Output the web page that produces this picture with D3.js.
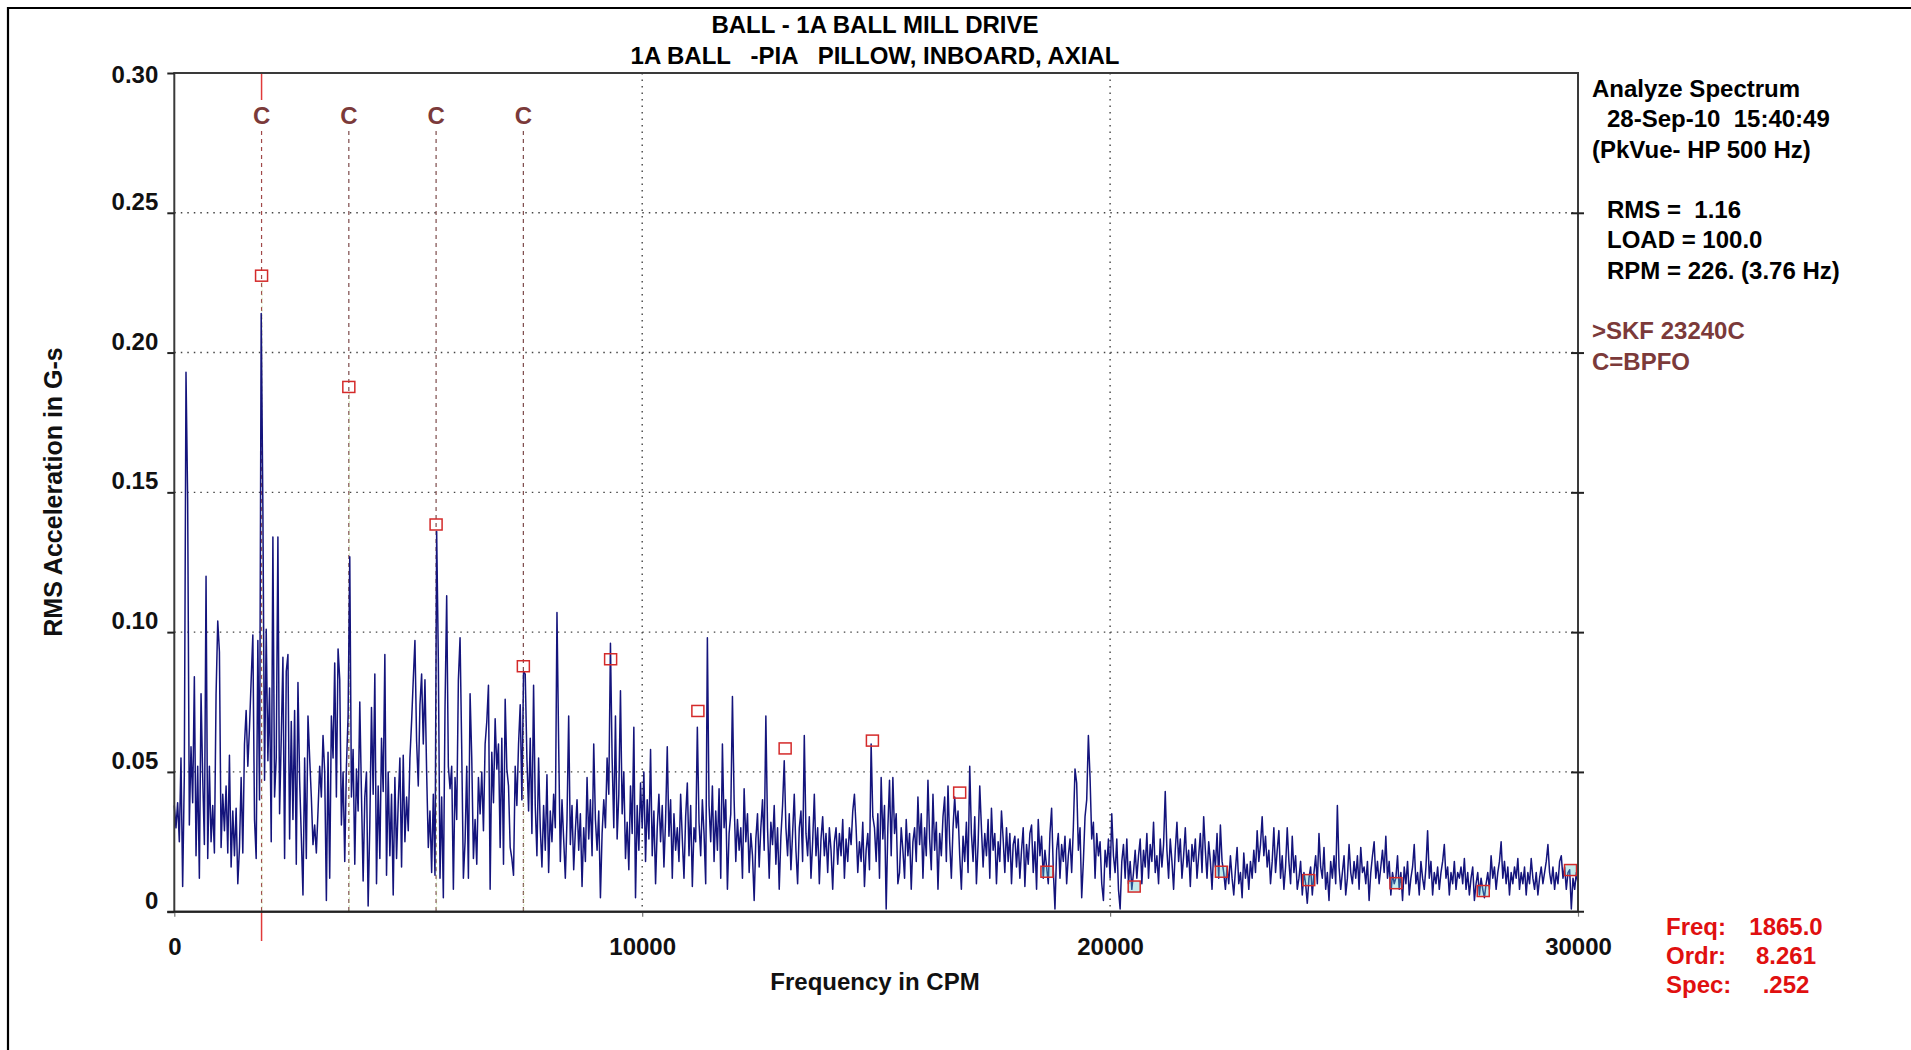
<!DOCTYPE html>
<html>
<head>
<meta charset="utf-8">
<script src="https://cdn.jsdelivr.net/npm/d3@7"></script>
<style>
  html, body { margin: 0; padding: 0; background: #fff; }
  svg { display: block; }
  text { font-family: "Liberation Sans", Arial, Helvetica, sans-serif; font-weight: bold; }
</style>
</head>
<body>
<svg id="chart" width="1911" height="1050"></svg>
<script>
// ---- Chart content ----
const titleLines = ["BALL - 1A BALL MILL DRIVE", "1A BALL   -PIA   PILLOW, INBOARD, AXIAL"];
const yAxisTitle = "RMS Acceleration in G-s";
const xAxisTitle = "Frequency in CPM";

const yTicks = [0, 0.05, 0.10, 0.15, 0.20, 0.25, 0.30];
const yTickLabels = ["0", "0.05", "0.10", "0.15", "0.20", "0.25", "0.30"];
const xTicks = [0, 10000, 20000, 30000];
const xTickLabels = ["0", "10000", "20000", "30000"];

const infoLines = [
  { text: "Analyze Spectrum", indent: false, color: "#000" },
  { text: "28-Sep-10  15:40:49", indent: true, color: "#000" },
  { text: "(PkVue- HP 500 Hz)", indent: false, color: "#000" },
  { text: "RMS =  1.16", indent: true, color: "#000", gapBefore: true },
  { text: "LOAD = 100.0", indent: true, color: "#000" },
  { text: "RPM = 226. (3.76 Hz)", indent: true, color: "#000" },
  { text: ">SKF 23240C", indent: false, color: "#7b3a3a", gapBefore: true },
  { text: "C=BPFO", indent: false, color: "#7b3a3a" }
];

const readoutLabels = ["Freq:", "Ordr:", "Spec:"];
const readoutValues = ["1865.0", "8.261", ".252"];

// BPFO fault-frequency cursor family (label "C"), CPM
const bpfoLines = [1865, 3730, 5595, 7460];

// Harmonic markers of the 1865 CPM cursor: frequency (CPM) and amplitude (G)
const harmonicFreqs = [1865, 3730, 5595, 7460, 9325, 11190, 13055, 14920,
                       16785, 18650, 20515, 22380, 24245, 26110, 27975, 29840];
const harmonicAmps = [0.2275, 0.1877, 0.1385, 0.0878, 0.0903, 0.0718, 0.0584, 0.0612,
                      0.0426, 0.0143, 0.0090, 0.0143, 0.0113, 0.0102, 0.0074, 0.0149];

// Spectrum: 840 lines over 0..30000 CPM, amplitudes in milli-G
const fmax = 30000;
const lineCount = 840;
const amplitudeMilliG = [
  38,30,39,25,55,9,49,193,147,31,
  59,39,84,20,52,12,78,48,24,120,
  19,52,25,38,21,78,104,93,23,42,
  29,45,21,56,16,36,20,37,10,23,
  48,21,60,72,52,66,83,99,33,19,
  97,40,214,145,47,101,54,80,25,134,
  41,55,134,35,62,91,19,86,92,26,
  68,33,72,17,82,47,27,6,55,19,
  70,55,41,24,31,21,36,52,41,63,
  50,4,57,12,70,55,89,41,94,83,
  31,50,18,52,70,127,41,58,17,51,
  36,75,42,11,41,50,2,31,73,42,
  85,10,45,19,62,43,92,13,50,20,
  42,6,48,19,39,55,16,56,25,41,
  29,55,68,83,97,61,45,74,85,60,
  83,50,23,36,14,42,13,136,90,12,
  41,5,73,113,52,44,52,8,48,33,
  83,98,58,12,25,52,12,78,55,19,
  33,17,48,35,50,29,60,68,81,8,
  57,39,69,51,60,23,62,17,76,51,
  45,23,19,13,52,38,60,74,40,86,
  85,55,36,62,28,81,38,20,55,30,
  16,38,22,49,14,36,25,42,30,107,
  60,18,40,26,12,33,70,24,38,15,
  29,40,22,35,9,30,18,48,26,40,
  20,60,33,22,36,5,28,40,30,55,
  42,96,55,30,70,26,42,79,35,50,
  19,32,15,45,28,66,5,38,22,46,
  30,50,18,40,26,58,20,36,10,30,
  42,25,38,16,33,59,27,40,12,35,
  22,30,18,42,26,12,34,46,20,38,
  9,30,25,66,32,20,40,28,10,98,
  38,25,45,18,36,22,44,12,60,30,
  40,8,28,35,77,40,18,33,22,30,
  12,44,25,35,14,28,20,4,26,35,
  16,30,40,22,70,30,12,32,24,38,
  17,30,8,27,38,54,30,20,35,15,
  28,42,22,10,30,36,18,63,28,20,
  34,12,25,42,20,30,10,26,34,20,
  28,14,30,22,8,25,30,17,28,20,
  33,12,26,18,30,24,36,42,30,14,
  25,18,32,9,22,28,15,60,34,30,
  18,35,12,48,26,38,1,30,47,20,
  48,28,35,10,14,30,22,12,33,20,
  28,8,25,30,18,41,24,35,12,30,
  20,47,26,15,42,22,32,8,28,20,
  34,41,18,45,25,12,30,41,30,36,
  20,8,27,18,32,14,52,28,18,34,
  10,24,45,30,16,28,20,33,12,37,
  22,28,10,25,18,36,26,14,30,18,
  28,10,24,27,16,26,12,22,30,9,
  24,17,28,31,14,25,8,33,20,27,
  12,22,16,10,28,37,15,1,22,28,
  12,24,18,27,10,20,26,14,30,51,
  46,22,30,5,18,34,40,63,48,26,
  32,12,28,20,25,10,4,22,16,26,
  12,35,20,14,26,8,1,18,24,12,
  26,10,18,8,14,22,12,20,26,10,
  22,16,28,12,24,18,32,14,20,10,
  26,16,24,43,22,12,26,18,8,22,
  32,18,26,12,20,30,16,22,9,24,
  18,26,12,20,28,14,34,22,12,25,
  18,8,22,16,28,12,31,18,14,8,
  16,10,20,12,6,15,23,10,14,5,
  21,12,17,8,18,12,22,14,29,18,
  24,34,20,27,16,22,10,18,30,14,
  22,29,12,20,8,16,30,18,10,27,
  14,20,8,12,18,6,14,10,3,12,
  16,6,14,20,10,28,16,12,23,8,
  14,4,18,12,20,10,38,16,8,14,
  20,6,12,24,14,10,18,12,20,8,
  23,14,16,10,18,4,14,20,25,12,
  18,10,16,22,14,27,12,18,6,14,
  10,12,20,8,14,4,16,10,18,6,
  12,16,24,10,14,6,18,12,8,16,
  29,12,18,6,14,10,16,8,14,18,
  24,12,16,6,14,10,18,8,14,12,
  16,10,19,8,14,6,12,16,4,10,
  14,6,12,8,5,10,14,8,20,12,
  16,8,14,18,25,12,18,10,16,6,
  14,10,16,12,19,8,14,10,16,6,
  14,10,19,12,8,14,6,12,16,10,
  14,18,24,14,10,16,8,14,10,18,
  20,12,16,8,14,15,1,12,8,14,
  10
];

// ---- Layout ----
const svg = d3.select("#chart");
const plot = { left: 174.3, right: 1578, top: 73, bottom: 911.7 };

const x = d3.scaleLinear().domain([0, fmax]).range([plot.left, plot.right]);
const y = d3.scaleLinear().domain([0, 0.30]).range([plot.bottom, plot.top]);

// Page border (left and top edges)
svg.append("path")
  .attr("d", `M8,1050 V8 H1911`)
  .attr("fill", "none").attr("stroke", "#000").attr("stroke-width", 2.2);

// Titles
titleLines.forEach((t, i) => {
  svg.append("text")
    .attr("x", 875).attr("y", 33 + i * 30.5)
    .attr("text-anchor", "middle")
    .attr("font-size", 24).attr("fill", "#000")
    .style("white-space", "pre")
    .text(t);
});

// Dotted grid
const grid = svg.append("g").attr("stroke", "#444").attr("stroke-width", 1.4)
  .attr("stroke-dasharray", "1.5,5").attr("fill", "none");
grid.selectAll("line.h").data(yTicks.filter(v => v > 0 && v < 0.30)).join("line")
  .attr("class", "h")
  .attr("x1", plot.left).attr("x2", plot.right)
  .attr("y1", d => y(d)).attr("y2", d => y(d));
grid.selectAll("line.v").data(xTicks.filter(v => v > 0 && v < fmax)).join("line")
  .attr("class", "v")
  .attr("x1", d => x(d)).attr("x2", d => x(d))
  .attr("y1", plot.top).attr("y2", plot.bottom);

// BPFO cursor lines (dashed) with "C" labels
const cursors = svg.append("g");
cursors.selectAll("line").data(bpfoLines).join("line")
  .attr("x1", d => x(d)).attr("x2", d => x(d))
  .attr("y1", 131).attr("y2", plot.bottom)
  .attr("stroke", (d, i) => i === 0 ? "#a04848" : "#7d4a4a")
  .attr("stroke-width", 1.2)
  .attr("stroke-dasharray", "4,4");
cursors.selectAll("text").data(bpfoLines).join("text")
  .attr("x", d => x(d)).attr("y", 124)
  .attr("text-anchor", "middle")
  .attr("font-size", 24).attr("fill", "#7b3a3a")
  .text("C");

// Active cursor (solid red ends above the label and below the axis)
const activeX = x(bpfoLines[0]);
svg.append("line").attr("x1", activeX).attr("x2", activeX)
  .attr("y1", plot.top).attr("y2", 100)
  .attr("stroke", "#e03a3a").attr("stroke-width", 1.5);
svg.append("line").attr("x1", activeX).attr("x2", activeX)
  .attr("y1", plot.bottom).attr("y2", 941)
  .attr("stroke", "#e03a3a").attr("stroke-width", 1.5);

// Faint leader lines beneath the first harmonic markers
svg.append("g").selectAll("line").data(harmonicFreqs.slice(0, 4)).join("line")
  .attr("x1", d => x(d) + 0.5).attr("x2", d => x(d) + 0.5)
  .attr("y1", (d, i) => y(harmonicAmps[i]) + 6).attr("y2", plot.bottom)
  .attr("stroke", "#b4d98c").attr("stroke-width", 1)
  .attr("stroke-dasharray", "2,2").attr("opacity", 0.6);

// Spectrum trace
const spectrumLine = d3.line()
  .x((d, i) => x(i * fmax / lineCount))
  .y(d => y(d / 1000));
svg.append("path")
  .datum(amplitudeMilliG)
  .attr("d", spectrumLine)
  .attr("fill", "none")
  .attr("stroke", "#14147c")
  .attr("stroke-width", 1.5)
  .attr("stroke-linejoin", "round");

// Harmonic markers
svg.append("g").selectAll("rect").data(harmonicFreqs).join("rect")
  .attr("x", d => x(d) - 6)
  .attr("y", (d, i) => y(harmonicAmps[i]) - 5.5)
  .attr("width", 12).attr("height", 11)
  .attr("fill", (d, i) => i >= 9 ? "rgba(90,200,200,0.35)" : "none")
  .attr("stroke", "#d42a2a").attr("stroke-width", 1.5);

// Plot frame
svg.append("rect")
  .attr("x", plot.left).attr("y", plot.top)
  .attr("width", plot.right - plot.left).attr("height", plot.bottom - plot.top)
  .attr("fill", "none").attr("stroke", "#3a3a3a").attr("stroke-width", 2);

// Y axis (left) with tick labels
const yAxis = svg.append("g")
  .attr("transform", `translate(${plot.left},0)`)
  .call(d3.axisLeft(y).tickValues(yTicks)
    .tickFormat((d, i) => yTickLabels[i]).tickSize(7).tickPadding(9));
yAxis.select(".domain").remove();
yAxis.selectAll("line").attr("stroke", "#222").attr("stroke-width", 2);
yAxis.selectAll("text")
  .attr("font-size", 24).attr("fill", "#111")
  .attr("dy", d => d >= 0.30 ? 9 : -3.5);

// Right-hand ticks
const yAxisR = svg.append("g")
  .attr("transform", `translate(${plot.right - 7},0)`)
  .call(d3.axisRight(y).tickValues(yTicks.slice(1, -1)).tickFormat("").tickSize(13));
yAxisR.select(".domain").remove();
yAxisR.selectAll("line").attr("stroke", "#222").attr("stroke-width", 2);

// X axis (bottom)
const xAxis = svg.append("g")
  .attr("transform", `translate(0,${plot.bottom})`)
  .call(d3.axisBottom(x).tickValues(xTicks)
    .tickFormat((d, i) => xTickLabels[i]).tickSize(5).tickPadding(21));
xAxis.select(".domain").remove();
xAxis.selectAll("line").attr("stroke", "#777").attr("stroke-width", 1.2);
xAxis.selectAll("text").attr("font-size", 24).attr("fill", "#111");
svg.append("line")
  .attr("x1", plot.left - 7).attr("x2", plot.right + 6)
  .attr("y1", plot.bottom).attr("y2", plot.bottom)
  .attr("stroke", "#222").attr("stroke-width", 2);

// Axis titles
svg.append("text")
  .attr("x", 875).attr("y", 990)
  .attr("text-anchor", "middle").attr("font-size", 24).attr("fill", "#111")
  .text(xAxisTitle);
svg.append("text")
  .attr("transform", "translate(62,492) rotate(-90)")
  .attr("text-anchor", "middle").attr("font-size", 25).attr("fill", "#111")
  .text(yAxisTitle);

// Information block
let infoY = 97;
infoLines.forEach((ln, i) => {
  if (i > 0) infoY += ln.gapBefore ? 60.5 : 30.3;
  svg.append("text")
    .attr("x", ln.indent ? 1607 : 1592).attr("y", infoY)
    .attr("font-size", 24).attr("fill", ln.color)
    .style("white-space", "pre")
    .text(ln.text);
});

// Cursor readout
readoutLabels.forEach((lbl, i) => {
  const by = 935 + i * 29;
  svg.append("text").attr("x", 1666).attr("y", by)
    .attr("font-size", 24).attr("fill", "#e01010").text(lbl);
  svg.append("text").attr("x", 1786).attr("y", by)
    .attr("text-anchor", "middle")
    .attr("font-size", 24).attr("fill", "#e01010").text(readoutValues[i]);
});
</script>
</body>
</html>
